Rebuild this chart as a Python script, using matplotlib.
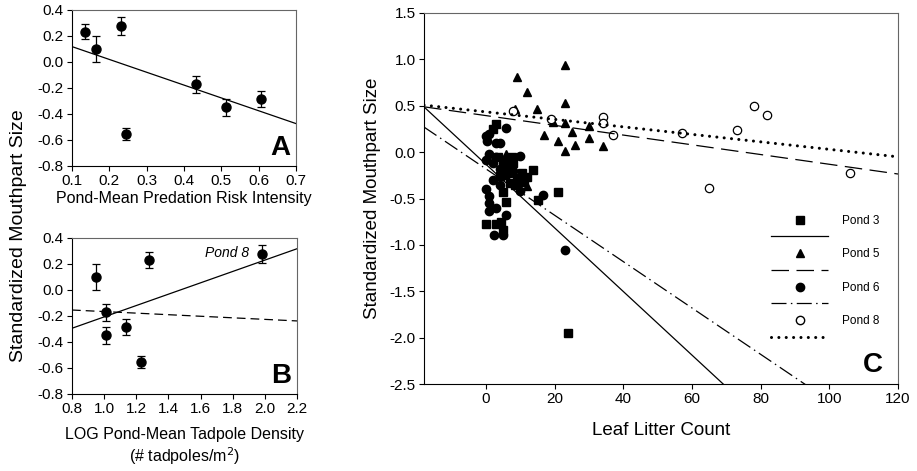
import numpy as np
import matplotlib
matplotlib.use('Agg')
import matplotlib.pyplot as plt
from matplotlib.lines import Line2D

plt.rcParams['font.family'] = ['Liberation Sans', 'DejaVu Sans']
plt.rcParams['axes.unicode_minus'] = False

# ---- panel A / B : pond means (same seven ponds) ----
risk = [0.134, 0.165, 0.230, 0.246, 0.431, 0.512, 0.606]
density = [1.280, 0.950, 1.983, 1.230, 1.012, 1.012, 1.133]
mouth_mean = [0.233, 0.097, 0.277, -0.556, -0.172, -0.349, -0.285]
mouth_err = [0.060, 0.100, 0.072, 0.046, 0.068, 0.064, 0.064]

# fitted lines (slope, intercept)
fit_a = (-0.987, 0.217)
fit_b_all = (0.437, -0.644)
fit_b_no8 = (-0.060, -0.106)

# ---- panel C : individual tadpoles ----
p3_x = [3.0, 2.0, 5.0, 6.5, 8.0, 9.0, 10.5, 12.0, 13.8, 15.2, 21.0, 24.0, 5.0, 6.0,
        7.0, 4.0, 3.5, 0.0, 3.0, 5.0, 4.5, 8.5, 10.0, 6.0, 7.5, 11.0]
p3_y = [0.30, 0.25, -0.15, -0.22, -0.12, -0.28, -0.22, -0.27, -0.19, -0.52, -0.43, -1.95, -0.43, -0.54,
        -0.33, -0.26, -0.05, -0.77, -0.78, -0.84, -0.75, -0.35, -0.30, -0.10, -0.05, -0.32]
p5_x = [9.0, 12.0, 15.0, 8.5, 23.0, 23.0, 19.5, 23.0, 30.0, 17.0, 25.0, 21.0, 30.0,
        26.0, 23.0, 34.0, 6.0, 12.0, 5.0]
p5_y = [0.81, 0.65, 0.47, 0.47, 0.94, 0.53, 0.32, 0.31, 0.28, 0.18, 0.22, 0.12, 0.15,
        0.08, 0.01, 0.07, -0.02, -0.36, -0.20]
p6_x = [6.0, 0.0, 1.0, 0.3, 3.0, 4.0, 10.0, 0.0, 1.0, 3.0, 2.0, 4.0, 5.0, 6.0, 7.0,
        9.0, 10.0, 16.5, 23.0, 0.0, 1.0, 1.0, 1.0, 3.0, 6.0, 2.5, 5.0, 2.0, 4.0, 8.0]
p6_y = [0.26, 0.17, 0.20, 0.12, 0.10, 0.10, -0.04, -0.09, -0.02, -0.05, -0.12, -0.18, -0.08, -0.25, -0.15,
        -0.35, -0.42, -0.46, -1.06, -0.40, -0.47, -0.55, -0.64, -0.60, -0.68, -0.89, -0.89, -0.30, -0.35, -0.20]
p8_x = [8.0, 19.0, 34.0, 34.0, 37.0, 57.0, 73.0, 78.0, 82.0, 65.0, 106.0]
p8_y = [0.44, 0.36, 0.38, 0.31, 0.18, 0.21, 0.24, 0.50, 0.40, -0.39, -0.23]

pond_names = ['Pond 3', 'Pond 5', 'Pond 6', 'Pond 8']
pond_slopes = [-0.0343, -0.00525, -0.0250, -0.00404]
pond_intercepts = [-0.130, 0.394, -0.180, 0.434]


def fmt1(vals):
    return ['%.1f' % (round(v, 2) + 0.0) for v in vals]


def style_axes(ax, labelsize):
    for s in ['top', 'right']:
        ax.spines[s].set_color('#666666')
    ax.tick_params(direction='out', length=3.5, width=0.8, labelsize=labelsize,
                   top=False, right=False, pad=2.5)


fig = plt.figure(figsize=(9.17, 4.71), dpi=100)

# Panel A
axA = fig.add_axes([0.0785, 0.6476, 0.2443, 0.3312])
axA.errorbar(risk, mouth_mean, yerr=mouth_err, fmt='o', color='k', ms=6.5,
             capsize=2.8, elinewidth=0.9, capthick=0.9)
xa = np.array([0.1, 0.7])
axA.plot(xa, fit_a[0] * xa + fit_a[1], color='k', lw=0.9)
axA.set_xlim(0.1, 0.7)
axA.set_ylim(-0.8, 0.4)
ta = np.round(np.arange(0.1, 0.71, 0.1), 2)
axA.set_xticks(ta)
axA.set_xticklabels(fmt1(ta))
ty = np.round(np.arange(-0.8, 0.41, 0.2), 2)
axA.set_yticks(ty)
axA.set_yticklabels(fmt1(ty))
axA.set_xlabel('Pond-Mean Predation Risk Intensity', fontsize=11.5, labelpad=2)
axA.text(0.975, 0.03, 'A', transform=axA.transAxes, ha='right', va='bottom',
         fontsize=20, fontweight='bold')
style_axes(axA, 11)

# Panel B
axB = fig.add_axes([0.0785, 0.1635, 0.2454, 0.3312])
axB.errorbar(density, mouth_mean, yerr=mouth_err, fmt='o', color='k', ms=6.5,
             capsize=2.8, elinewidth=0.9, capthick=0.9)
xb = np.array([0.8, 2.2])
axB.plot(xb, fit_b_all[0] * xb + fit_b_all[1], color='k', lw=0.9)
axB.plot(xb, fit_b_no8[0] * xb + fit_b_no8[1], color='k', lw=0.9, ls=(0, (7, 4)))
axB.set_xlim(0.8, 2.2)
axB.set_ylim(-0.8, 0.4)
tb = np.round(np.arange(0.8, 2.21, 0.2), 2)
axB.set_xticks(tb)
axB.set_xticklabels(fmt1(tb))
axB.set_yticks(ty)
axB.set_yticklabels(fmt1(ty))
axB.set_xlabel('LOG Pond-Mean Tadpole Density\n(# tadpoles/m$^2$)', fontsize=11.5,
               labelpad=8, linespacing=1.2)
axB.text(1.9, 0.285, 'Pond 8', ha='right', va='center', fontsize=10, style='italic')
axB.text(0.975, 0.03, 'B', transform=axB.transAxes, ha='right', va='bottom',
         fontsize=20, fontweight='bold')
style_axes(axB, 11)

fig.text(0.020, 0.50, 'Standardized Mouthpart Size', rotation=90, ha='center',
         va='center', fontsize=14)

# Panel C
axC = fig.add_axes([0.4624, 0.1847, 0.5169, 0.7877])
ms = 5.5
axC.plot(p3_x, p3_y, 's', color='k', ms=ms)
axC.plot(p5_x, p5_y, '^', color='k', ms=ms + 0.5)
axC.plot(p6_x, p6_y, 'o', color='k', ms=ms + 0.5)
axC.plot(p8_x, p8_y, 'o', mfc='white', mec='k', mew=0.9, ms=ms + 0.5)

line_styles = [
    dict(ls='-', lw=0.9),
    dict(ls=(0, (14, 6)), lw=0.9),
    dict(ls=(0, (12, 3.5, 1.2, 3.5)), lw=0.9),
    dict(ls=(0, (0.01, 2.4)), lw=2.2, dash_capstyle='round'),
]
xc = np.array([-18.0, 120.0])
for slope, icpt, st in zip(pond_slopes, pond_intercepts, line_styles):
    axC.plot(xc, slope * xc + icpt, color='k', **st)

axC.set_xlim(-18, 120)
axC.set_ylim(-2.5, 1.5)
axC.set_xticks(np.arange(0, 121, 20))
tc = np.round(np.arange(-2.5, 1.51, 0.5), 2)
axC.set_yticks(tc)
axC.set_yticklabels(fmt1(tc))
axC.set_xlabel('Leaf Litter Count', fontsize=13.5, labelpad=11)
axC.set_ylabel('Standardized Mouthpart Size', fontsize=13.5, labelpad=6)
axC.text(0.968, 0.016, 'C', transform=axC.transAxes, ha='right', va='bottom',
         fontsize=20, fontweight='bold')
style_axes(axC, 11)

markers = [dict(marker='s', ms=ms, mfc='k', mec='k'),
           dict(marker='^', ms=ms + 0.5, mfc='k', mec='k'),
           dict(marker='o', ms=ms + 0.5, mfc='k', mec='k'),
           dict(marker='o', ms=ms + 0.5, mfc='white', mec='k')]
handles = []
labels = []
for name, mk, st in zip(pond_names, markers, line_styles):
    handles.append(Line2D([], [], ls='none', color='k', **mk))
    labels.append(name)
    handles.append(Line2D([], [], color='k', **st))
    labels.append('')
axC.legend(handles, labels, loc='upper left', bbox_to_anchor=(0.72, 0.472),
           frameon=False, fontsize=8.5, handlelength=4.8, handletextpad=1.2,
           labelspacing=0.4, numpoints=1, borderpad=0)

fig.savefig('out.png', dpi=100)
